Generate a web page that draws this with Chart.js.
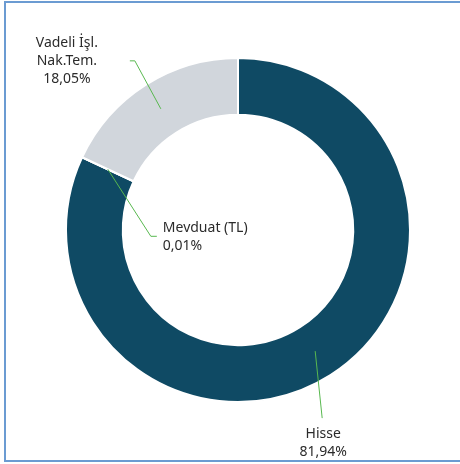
<!DOCTYPE html>
<html>
<head>
<meta charset="utf-8">
<script src="https://cdn.jsdelivr.net/npm/chart.js@4"></script>
<style>
  html, body { margin: 0; padding: 0; background: #fff; overflow: hidden; }
  #frame {
    position: absolute; left: 4px; top: 1px; width: 480px; height: 457px;
    border: 2px solid #6b9bd2; border-right: none;
  }
  #wrap { position: absolute; left: 0; top: 0; width: 460px; height: 464px; }
</style>
</head>
<body>
<div id="frame"></div>
<div id="wrap"><canvas id="donut" width="460" height="464"></canvas></div>
<script>
// Data
const labels = ['Hisse', 'Mevduat (TL)', 'Vadeli İşl. Nak.Tem.'];
const labelLines = [['Hisse'], ['Mevduat (TL)'], ['Vadeli İşl.', 'Nak.Tem.']];
const values = [81.94, 0.01, 18.05];
const valueText = ['81,94%', '0,01%', '18,05%'];
const colors = ['#0f4a64', '#0f4a64', '#d1d6dc'];

// leader line style per slice: first leg (dx, dy), then horizontal leg, text placement
const leaders = [
  { dx: 7, dy: 67, h: 0, align: 'center', tx: 1, ty: 16 },
  { dx: 43, dy: 67, h: 6, align: 'left', tx: 6, ty: -8 },
  { dx: -26, dy: -48, h: -5, align: 'center', tx: -63, ty: -18 }
];

const textColor = '#2b2b2b';
const lineColor = '#58b84f';

const leaderPlugin = {
  id: 'leaders',
  afterDraw(chart) {
    const ctx = chart.ctx;
    const meta = chart.getDatasetMeta(0);
    ctx.save();
    ctx.font = '14px "Noto Sans"';
    ctx.textBaseline = 'middle';
    meta.data.forEach((arc, i) => {
      const p = arc.getProps(['x', 'y', 'startAngle', 'endAngle', 'innerRadius', 'outerRadius'], true);
      const mid = (p.startAngle + p.endAngle) / 2;
      const r = (p.innerRadius + p.outerRadius) / 2;
      const x0 = p.x + Math.cos(mid) * r;
      const y0 = p.y + Math.sin(mid) * r;
      const L = leaders[i];
      const x1 = x0 + L.dx, y1 = y0 + L.dy;
      const x2 = x1 + L.h;

      ctx.strokeStyle = lineColor;
      ctx.lineWidth = 1;
      ctx.beginPath();
      ctx.moveTo(x0, y0);
      ctx.lineTo(x1, y1);
      if (L.h) ctx.lineTo(x2, y1);
      ctx.stroke();

      const lines = labelLines[i].concat([valueText[i]]);
      ctx.fillStyle = textColor;
      ctx.textAlign = L.align;
      lines.forEach((t, k) => {
        ctx.fillText(t, x2 + L.tx, y1 + L.ty + k * 18);
      });
    });
    ctx.restore();
  }
};

new Chart(document.getElementById('donut').getContext('2d'), {
  type: 'doughnut',
  data: {
    labels: labels,
    datasets: [{
      data: values,
      backgroundColor: colors,
      borderColor: '#ffffff',
      borderWidth: 2,
      hoverOffset: 0
    }]
  },
  options: {
    responsive: false,
    animation: false,
    cutout: '67%',
    layout: { padding: { left: 65, right: 49, top: 57, bottom: 61 } },
    plugins: {
      legend: { display: false },
      tooltip: { enabled: false }
    }
  },
  plugins: [leaderPlugin]
});
</script>
</body>
</html>
